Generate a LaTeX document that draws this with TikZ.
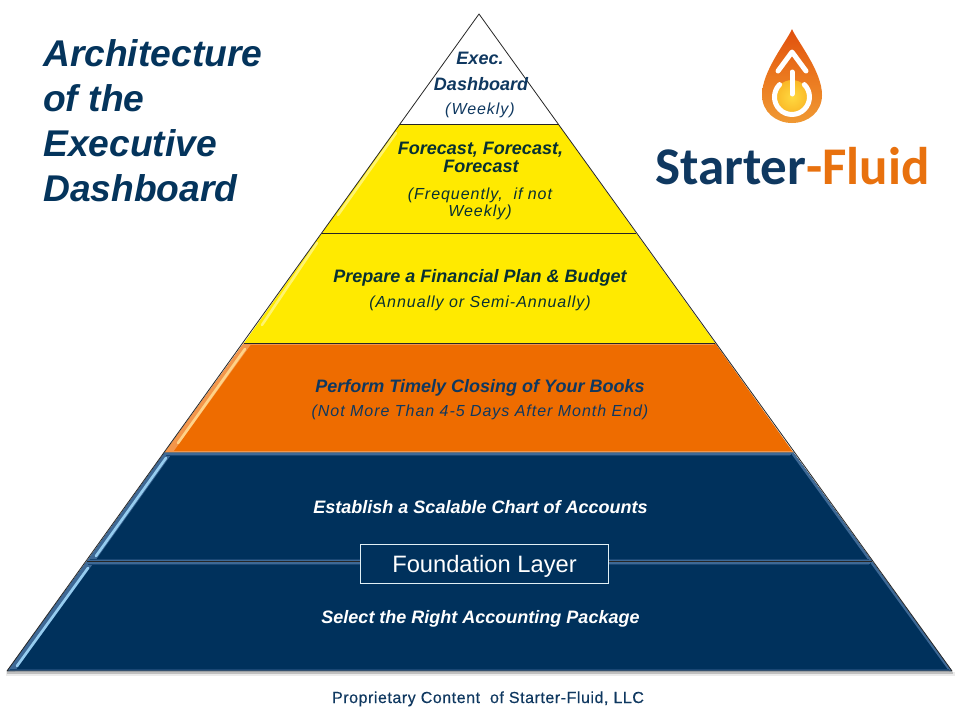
\documentclass[tikz,border=0pt]{standalone}
\usepackage{fontspec}
\setmainfont{Liberation Sans}
\newfontfamily\logofont{Carlito}
\usetikzlibrary{shadings,calc}
\definecolor{navy}{RGB}{0,49,92}
\definecolor{titleblue}{RGB}{4,52,92}
\definecolor{tier}{RGB}{255,234,0}
\definecolor{orangetier}{RGB}{238,108,0}
\definecolor{logoorange}{RGB}{232,113,14}
\definecolor{logonavy}{RGB}{15,56,96}
\definecolor{glowblue}{RGB}{150,205,240}
\definecolor{bandblue}{RGB}{62,105,150}
\definecolor{bandblueb}{RGB}{105,140,172}
\definecolor{bandbluec}{RGB}{25,70,115}
\definecolor{glowyellow}{RGB}{255,244,110}
\definecolor{gloworange}{RGB}{255,210,135}
\definecolor{bandorange}{RGB}{243,150,75}
\definecolor{darktext}{RGB}{8,48,50}
\definecolor{boxline}{RGB}{225,240,245}
\pgfdeclareverticalshading{dropgrad}{100bp}{rgb(0bp)=(0.94,0.60,0.20); rgb(25bp)=(0.94,0.60,0.20); rgb(50bp)=(0.92,0.47,0.12); rgb(75bp)=(0.88,0.31,0.05); rgb(100bp)=(0.88,0.31,0.05)}
\pgfdeclareradialshading{coreglow}{\pgfpoint{0bp}{0bp}}{rgb(0bp)=(1,0.85,0.25); rgb(25bp)=(0.98,0.72,0.15); rgb(50bp)=(0.94,0.58,0.15)}
\tikzset{
  x=1pt,y=-1pt,
  tierline/.style={draw=black!85,line width=0.8pt,line join=round},
  lblhead/.style={font=\fontsize{18}{20}\selectfont\bfseries\itshape,inner sep=0pt,anchor=base},
  lblsub/.style={font=\fontsize{16}{20}\selectfont\itshape\addfontfeature{LetterSpace=6},inner sep=0pt,anchor=base},
  titletext/.style={font=\fontsize{37.2}{45}\selectfont\bfseries\itshape,text=titleblue,align=left,inner sep=0pt,anchor=north west},
  foot/.style={font=\fontsize{16}{18}\selectfont\addfontfeature{LetterSpace=3.4,FakeBold=0.25},text=logonavy,inner sep=0pt,anchor=base},
  sheen/.style={line width=2.6pt,line cap=round},
  foundbox/.style={draw=boxline,fill=navy,line width=0.8pt,minimum width=248pt,minimum height=38.5pt,inner sep=0pt},
  foundtext/.style={text=white,inner sep=0pt,anchor=base,font=\fontsize{23.7}{26}\selectfont},
  ringstroke/.style={draw=white,line width=5pt,line cap=round,line join=round},
}
\begin{document}
\begin{tikzpicture}
\useasboundingbox (0,0) rectangle (960,720);
\fill[white] (0,0) rectangle (960,720);
% soft shadow under pyramid
\fill[black!8] (6,672) rectangle (955,676);
\fill[black!25] (7,672) rectangle (953,674);
% tiers
\coordinate (apex) at (479,14);
\coordinate (a1) at (400,124); \coordinate (b1) at (558,124);
\coordinate (a2) at (322,233); \coordinate (b2) at (636,233);
\coordinate (a3) at (244,343); \coordinate (b3) at (715,343);
\coordinate (a4) at (165,452); \coordinate (b4) at (793,452);
\coordinate (a5) at (87,561);  \coordinate (b5) at (872,561);
\coordinate (a6) at (7,671);   \coordinate (b6) at (952,671);
\fill[white] (apex) -- (b1) -- (a1) -- cycle;
\fill[tier] (a1) -- (b1) -- (b2) -- (a2) -- cycle;
\fill[tier] (a2) -- (b2) -- (b3) -- (a3) -- cycle;
\fill[orangetier] (a3) -- (b3) -- (b4) -- (a4) -- cycle;
\fill[navy] (a4) -- (b4) -- (b5) -- (a5) -- cycle;
\fill[navy] (a5) -- (b5) -- (b6) -- (a6) -- cycle;
% left edge bands
\fill[bandorange] (a3) -- (a4) -- ($(a4)+(8,0)$) -- ($(a3)+(8,0)$) -- cycle;
\fill[bandblue] (a4) -- (a5) -- ($(a5)+(8,0)$) -- ($(a4)+(8,0)$) -- cycle;
\fill[bandblue] (a5) -- (a6) -- ($(a6)+(8,0)$) -- ($(a5)+(8,0)$) -- cycle;
% right edge bands
\fill[bandblue] (b4) -- (b5) -- ($(b5)+(-3,0)$) -- ($(b4)+(-3,0)$) -- cycle;
\fill[bandblue] (b5) -- (b6) -- ($(b6)+(-3,0)$) -- ($(b5)+(-3,0)$) -- cycle;
% edge sheen
\draw[sheen,glowyellow] (396,133) -- (338,215);
\draw[sheen,glowyellow] (317,243) -- (262,325);
\draw[sheen,gloworange] (245,349) -- (178,443);
\draw[sheen,glowblue] (166,458) -- (96,556);
\draw[sheen,glowblue] (88,568) -- (17,666);
% top and bottom bands
\foreach \ya/\xa/\xb in {452/165/793,561/87/872}{
  \fill[bandblueb] (\xa+1,\ya) rectangle (\xb-1,\ya+1.4);
  \fill[bandblue] (\xa+1,\ya+1.4) rectangle (\xb-2,\ya+2.6);
  \fill[bandbluec] (\xa+1,\ya+2.6) rectangle (\xb-3,\ya+4);
}
\foreach \ya/\xa/\xb in {561/87/872,671/7/952}{
  \fill[bandblue] (\xa+1,\ya-1.2) rectangle (\xb-1,\ya);
  \fill[bandbluec] (\xa+3,\ya-2.4) rectangle (\xb-3,\ya-1.2);
}
\fill[bandorange] (245,343) rectangle (714,345);
\fill[bandorange] (166,450.5) rectangle (792,452);
% dividing lines
\draw[tierline] (a1) -- (b1);
\draw[tierline] (a2) -- (b2);
\draw[tierline] (a3) -- (b3);
\draw[black!55,line width=1pt] (a4) -- (b4);
\draw[tierline] (a5) -- (b5);
\draw[tierline] (apex) -- (b6) -- (a6) -- cycle;
% labels
\node[lblhead,text=logonavy] (e1) at (480,64) {Exec.};
\node[lblhead,text=logonavy] (e2) at (481,90) {Dashboard};
\node[lblsub,text=logonavy] (e3) at (480,114.5) {(Weekly)};
\node[lblhead,text=darktext] (f1) at (480.5,154) {Forecast, Forecast,};
\node[lblhead,text=darktext] (f1b) at (481,172.5) {Forecast};
\node[lblsub,text=darktext] (f2) at (480,199) {(Frequently,\ \ if not};
\node[lblsub,text=darktext] (f2b) at (480,216.5) {Weekly)};
\node[lblhead,text=darktext] (p1) at (480,282) {Prepare a Financial Plan \& Budget};
\node[lblsub,text=darktext] (p2) at (480,307) {(Annually or Semi-Annually)};
\node[lblhead,text=logonavy] (c1) at (480,392) {Perform Timely Closing of Your Books};
\node[lblsub,text=logonavy] (c2) at (480,416) {(Not More Than 4-5 Days After Month End)};
\node[lblhead,text=white] (s1) at (480.5,513) {Establish a Scalable Chart of Accounts};
\node[foundbox] (fl) at (484,564) {};
\node[foundtext] (flt) at (484.5,572) {Foundation Layer};
\node[lblhead,text=white] (s2) at (480.5,623) {Select the Right Accounting Package};
\node[titletext] (title) at (43,39) {Architecture\\of the\\Executive\\Dashboard};
\node[foot] (footer) at (488,703) {Proprietary Content\ \ of Starter-Fluid, LLC};
% logo drop
\shade[shading=dropgrad] (792,29) .. controls (787,41) and (762,71) .. (762,95)
   .. controls (762,112) and (776,123) .. (792,123)
   .. controls (808,123) and (822,112) .. (822,95)
   .. controls (822,71) and (797,41) .. (792,29) -- cycle;
\shade[shading=coreglow] (792,97) circle (17);
\draw[ringstroke] (778,71) -- (792,52) -- (806,71);
\draw[ringstroke] (792,72) -- (792,94);
\draw[ringstroke] (779.6,84.6) arc[start angle=225,end angle=-45,radius=17.5,x=1pt,y=1pt];
\node[inner sep=0pt,anchor=base west,font=\fontsize{53}{52}\selectfont\logofont\bfseries] (logo) at (655,184.5) {\textcolor{logonavy}{Starter}\textcolor{logoorange}{-Fluid}};
\end{tikzpicture}
\end{document}
